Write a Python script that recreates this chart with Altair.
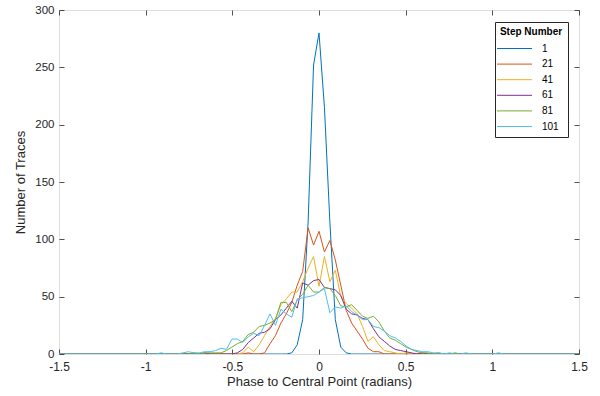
import altair as alt
import pandas as pd

BIN = 0.0314  # histogram bin width (radians)
bins = list(range(-48, 49))
phase = [round(k * BIN, 4) for k in bins]

steps = ["1", "21", "41", "61", "81", "101"]
colors = ["#0072BD", "#D95319", "#EDB120", "#7E2F8E", "#77AC30", "#4DBEEE"]

# counts per bin, k = -48 .. 48
c1 = [0, 0, 0, 0, 0, 0, 0, 0, 0, 0,
      0, 0, 0, 0, 0, 0, 0, 0, 0, 0,
      0, 0, 0, 0, 0, 0, 0, 0, 0, 0,
      0, 0, 0, 0, 0, 0, 0, 0, 0, 0,
      0, 0, 0, 1, 8, 30, 115, 252, 280, 215,
      115, 30, 6, 1, 0, 0, 0, 0, 0, 0,
      0, 0, 0, 0, 0, 0, 0, 0, 0, 0,
      0, 0, 0, 0, 0, 0, 0, 0, 0, 0,
      0, 0, 0, 0, 0, 0, 0, 0, 0, 0,
      0, 0, 0, 0, 0, 0, 0]
c21 = [0, 0, 0, 0, 0, 0, 0, 0, 0, 0,
       0, 0, 0, 0, 0, 0, 0, 0, 0, 0,
       0, 0, 0, 0, 0, 0, 0, 0, 0, 0,
       0, 0, 0, 0, 0, 1, 0, 0, 1, 9,
       16, 27, 35, 45, 60, 72, 110, 95, 107, 89,
       99, 82, 60, 38, 27, 20, 13, 5, 2, 2,
       0, 0, 0, 0, 0, 0, 0, 0, 0, 0,
       0, 0, 0, 0, 0, 0, 0, 0, 0, 0,
       0, 0, 0, 0, 0, 0, 0, 0, 0, 0,
       0, 0, 0, 0, 0, 0, 0]
c41 = [0, 0, 0, 0, 0, 0, 0, 0, 0, 0,
       0, 0, 0, 0, 0, 0, 0, 0, 0, 0,
       0, 0, 0, 0, 0, 0, 0, 0, 0, 0,
       0, 0, 0, 0, 1, 6, 2, 8, 16, 24,
       31, 43, 48, 54, 54, 63, 75, 85, 59, 85,
       63, 73, 50, 44, 40, 35, 24, 11, 15, 8,
       3, 2, 1, 0, 1, 0, 0, 0, 0, 0,
       0, 0, 0, 0, 0, 0, 0, 0, 0, 0,
       0, 0, 0, 0, 0, 0, 0, 0, 0, 0,
       0, 0, 0, 0, 0, 0, 0]
c61 = [0, 0, 0, 0, 0, 0, 0, 0, 0, 0,
       0, 0, 0, 0, 0, 0, 0, 0, 0, 0,
       0, 0, 0, 0, 0, 0, 0, 1, 0, 0,
       0, 0, 0, 1, 4, 10, 14, 18, 19, 22,
       30, 34, 40, 46, 40, 62, 60, 64, 65, 58,
       57, 56, 51, 39, 35, 34, 31, 30, 22, 15,
       11, 7, 4, 3, 2, 1, 0, 1, 0, 0,
       0, 0, 0, 0, 0, 0, 0, 0, 0, 0,
       0, 0, 0, 0, 0, 0, 0, 0, 0, 0,
       0, 0, 0, 0, 0, 0, 0]
c81 = [0, 0, 0, 0, 0, 0, 0, 0, 0, 0,
       0, 0, 0, 0, 0, 0, 0, 0, 0, 0,
       0, 0, 0, 0, 0, 1, 0, 1, 1, 1,
       1, 3, 6, 9, 11, 17, 19, 24, 25, 27,
       30, 45, 45, 37, 47, 52, 60, 54, 54, 58,
       57, 51, 42, 41, 43, 38, 33, 31, 33, 28,
       20, 14, 12, 9, 6, 4, 2, 1, 1, 0,
       1, 0, 0, 1, 0, 0, 0, 0, 0, 0,
       0, 0, 0, 0, 0, 0, 0, 0, 0, 0,
       0, 0, 0, 0, 0, 0, 0]
c101 = [0, 0, 0, 0, 0, 0, 0, 0, 0, 0,
        0, 0, 0, 0, 0, 0, 0, 0, 0, 1,
        0, 0, 0, 1, 2, 1, 1, 2, 2, 3,
        5, 4, 13, 13, 10, 15, 18, 16, 25, 35,
        25, 39, 35, 32, 48, 49, 50, 51, 54, 57,
        36, 41, 40, 42, 37, 34, 30, 30, 24, 23,
        20, 16, 14, 11, 7, 4, 3, 2, 2, 1,
        1, 0, 1, 0, 0, 1, 0, 0, 0, 0,
        0, 1, 0, 0, 0, 0, 0, 0, 0, 0,
        0, 0, 0, 0, 0, 0, 0]

series = [c1, c21, c41, c61, c81, c101]
x_ticks = [-1.5, -1, -0.5, 0, 0.5, 1, 1.5]
y_ticks = [0, 50, 100, 150, 200, 250, 300]

rows = []
for i, (s, vals) in enumerate(zip(steps, series)):
    for p, v in zip(phase, vals):
        rows.append({"phase": p, "count": v, "step": s, "ord": i})
df = pd.DataFrame(rows)

FONT = "Liberation Sans"
AX = "#262626"

xscale = alt.Scale(domain=[-1.5, 1.5], nice=False, zero=False)
yscale = alt.Scale(domain=[0, 300], nice=False)

common_axis = dict(grid=False, domain=False, tickSize=5, offset=-5,
                   tickColor=AX, tickWidth=0.8, labelColor=AX,
                   labelFont=FONT, titleFont=FONT,
                   titleFontSize=13, titleColor=AX, titleFontWeight="normal",
                   labelFlush=False, labelOverlap=False)

lines = alt.Chart(df).mark_line(strokeWidth=1, clip=True).encode(
    x=alt.X("phase:Q", scale=xscale,
            axis=alt.Axis(values=x_ticks, labelExpr="toString(datum.value)",
                          title="Phase to Central Point (radians)",
                          labelFontSize=12,
                          labelPadding=7, titlePadding=3, **common_axis)),
    y=alt.Y("count:Q", scale=yscale,
            axis=alt.Axis(values=y_ticks, title="Number of Traces",
                          labelFontSize=11.5,
                          labelPadding=5, titlePadding=7, **common_axis)),
    color=alt.Color("step:N", scale=alt.Scale(domain=steps, range=colors),
                    legend=alt.Legend(title="Step Number", orient="none",
                                      legendX=436, legendY=12,
                                      strokeColor=AX, fillColor="white",
                                      padding=5, titleFont=FONT, titleFontSize=10,
                                      titleFontWeight="bold", titleColor="black",
                                      titleAnchor="middle", titlePadding=6,
                                      labelFont=FONT, labelFontSize=10,
                                      labelColor="black",
                                      symbolType="M-3.5,0H3.5", symbolSize=100,
                                      symbolStrokeWidth=1, symbolOffset=6,
                                      labelOffset=22, rowPadding=4.6)),
    order=alt.Order("ord:Q"),
    detail="step:N",
)

frame = alt.Chart(df).mark_line(opacity=0).encode(
    x=alt.X("phase:Q", scale=xscale,
            axis=alt.Axis(values=x_ticks, orient="top", labels=False, title=None,
                          **common_axis)),
    y=alt.Y("count:Q", scale=yscale,
            axis=alt.Axis(values=y_ticks, orient="right", labels=False, title=None,
                          **common_axis)),
    detail="step:N",
)

sep = alt.Chart(pd.DataFrame({"a": [0]})).mark_rule(color=AX, strokeWidth=0.8).encode(
    x=alt.value(436), x2=alt.value(509), y=alt.value(29)
)

chart = alt.layer(lines, frame, sep).resolve_axis(
    x="independent", y="independent"
).properties(
    width=520, height=344,
    autosize=alt.AutoSizeParams(type="none"),
    padding={"left": 59, "top": 10, "right": 21, "bottom": 42},
).configure_view(stroke=AX, strokeWidth=0.8).configure(background="white")

chart.save("out.html", embed_options={"renderer": "svg", "actions": False})
